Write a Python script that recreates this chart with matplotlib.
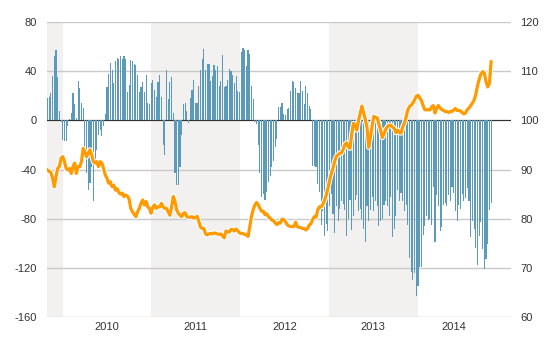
#############################################
# Weekly flows (bars) against an index (line) #
#############################################

import numpy as np
import pandas as pd
import matplotlib
matplotlib.use('Agg')
import matplotlib.pyplot as plt
import matplotlib.dates as mdates
import matplotlib.patheffects as pe

plt.rcParams['font.family'] = ['Liberation Sans', 'DejaVu Sans']

# -------------
# Data (weekly)
# -------------
start_date = '2009-10-30'

flows = [18, 19, 22, 36, 52, 57, 35, 8, -1, -16, -17, -17, -5, 1, 6, 22, 13, 2, 32, 26,
         14, 10, -22, -43, -57, -51, -38, -66, -34, -24, -12, -8, -13, -5, 5, 27, 38, 47, 41, 30,
         48, 51, 50,
         52, 50, 52, 50, 23, 29, 49, 48, 46, 45, 37, 23, 27, 31, 23, 37, 14, 13, 30, 33,
         25, 19, 31, 37, 19, -20, -28, 41, 17, 31, 35, 6, -43, -53, -53, -38, -12, 13, 14, 8,
         -2, 18, 25, 33, 14,
         14, 28, 41, 50, 58, 41, 46, 46, 32, 36, 45, 41, 44, 28, 32, 53, 27, 28, 33, 42,
         40, 37, 30, 36, 24, 23, 56, 59, 57, 44, 57, 54, 28, 17, -1, -3, -20, -43, -62, -60,
         -65, -58, -50, -45, -38,
         -33, -22, -15, 11, 11, 14, 5, 4, 9, 10, 24, 32, 31, 26, 22, 22, 32, 24, 13, 28,
         22, 12, 9, -37, -37, -38, -52, -58, -85, -74, -94, -84, -90, -70, -60, -76, -92, -70, -82, -72,
         -66, -68, -73, -94, -80,
         -65, -89, -78, -65, -61, -74, -72, -80, -88, -99, -70, -82, -73, -62, -74, -66, -70, -86, -82, -80,
         -69, -66, -70, -78, -62, -95, -88, -78, -57, -66, -59, -66, -74, -69, -85, -112, -123, -130, -124, -143,
         -135, -119, -119, -93, -86,
         -78, -81, -80, -85, -54, -99, -61, -70, -90, -87, -69, -67, -70, -61, -66, -54, -59, -74, -82, -69,
         -72, -60, -66, -63, -55, -66, -95, -82, -88, -104, -118, -94, -83, -105, -121, -113, -101, -73, -67]

index = [89.9, 89.6, 89.4, 88.2, 86.5, 88.5, 90.2, 90.6, 92.3, 92.6, 91.6, 90.2, 89.9, 90.2, 89.2, 90.6,
         91.3, 89.2, 90.6, 90.6, 91.6, 94.3, 93.6, 92.6, 93.3, 94.0, 93.0, 91.6, 91.3, 91.6, 90.6, 91.6,
         91.3, 90.2, 88.9, 88.2, 87.2, 87.5, 86.5, 86.8, 85.8, 86.1, 85.3,
         85.0, 85.2, 84.5, 84.8, 84.6, 84.0, 82.1, 81.4, 80.9, 80.4, 81.4, 82.1, 83.1, 83.8, 82.8, 83.5,
         82.4, 82.1, 81.1, 82.4, 82.8, 82.1, 82.4, 82.4, 83.1, 82.4, 82.1, 82.1, 81.4, 80.7, 82.4, 84.5,
         83.5, 81.8, 81.1, 80.7, 80.4, 81.1, 81.2, 80.4, 80.3, 80.3, 80.4, 80.1, 80.2,
         80.5, 79.5, 78.3, 78.0, 78.0, 76.9, 76.7, 76.9, 77.0, 76.9, 77.1, 77.0, 76.9, 76.8, 76.9, 76.5,
         76.1, 77.5, 77.3, 77.3, 77.8, 77.8, 77.5, 77.9, 77.5, 77.1, 77.0, 77.0, 76.8, 76.7, 76.4, 78.3,
         80.4, 81.8, 82.8, 83.3, 82.8, 82.1, 81.5, 81.5, 80.8, 81.0, 80.4, 80.1, 79.7,
         79.6, 79.1, 78.8, 79.2, 79.1, 79.9, 79.8, 79.4, 78.8, 78.5, 78.4, 78.4, 78.4, 79.3, 78.4, 78.2,
         78.2, 78.0, 78.0, 77.7, 78.0, 78.7, 79.0, 79.8, 80.4, 80.3, 81.8, 82.4, 82.4, 82.9, 83.7, 84.8,
         86.2, 87.8, 89.2, 90.3, 91.7, 92.7, 93.0, 93.3, 93.4, 94.1, 95.1, 95.4, 94.6,
         94.3, 97.2, 99.4, 99.0, 98.0, 100.0, 101.4, 102.9, 101.5, 100.2, 98.5, 94.5, 96.5, 98.8, 100.8, 100.6,
         100.5, 99.2, 98.0, 96.5, 97.2, 98.2, 98.7, 99.0, 99.0, 98.6, 98.4, 97.5, 98.0, 97.5, 97.4, 98.7,
         99.4, 100.7, 102.1, 102.8, 103.1, 103.5, 104.2, 104.9, 105.1, 104.6, 104.0, 103.0, 102.2,
         102.1, 102.2, 102.1, 102.7, 103.0, 101.5, 102.5, 103.0, 102.5, 102.2, 102.0, 101.8, 101.8, 101.6, 101.8, 101.8,
         102.1, 102.4, 102.0, 102.0, 101.9, 101.6, 101.3, 101.5, 102.2, 102.5, 103.0, 103.5, 104.1, 105.3, 107.0, 108.4,
         109.4, 109.9, 109.6, 107.9, 106.8, 107.5, 111.9]

years = [2010, 2011, 2012, 2013, 2014]
shaded_years = [2009, 2011, 2013]
left_ticks = [-160, -120, -80, -40, 0, 40, 80]
right_ticks = [60, 70, 80, 90, 100, 110, 120]

dates = pd.date_range(start_date, periods=len(flows), freq='7D')

# -----
# Style
# -----
col_bar = '#5b9ab8'
col_line = '#ff9a00'
col_band = '#f2f1f0'
col_grid = '#c9c9c9'
col_txt = '#333333'

x_min = pd.Timestamp('2009-10-28')
x_max = pd.Timestamp('2015-01-21')

fig = plt.figure(figsize=(5.58, 3.5), dpi=100)
ax = fig.add_axes([47/558, 1-317/350, 464/558, 295/350])

# alternate year shading
for y in shaded_years:
  a = max(pd.Timestamp(str(y)+'-01-01'), x_min)
  b = pd.Timestamp(str(y+1)+'-01-01')
  ax.axvspan(a, b, color=col_band, lw=0, zorder=0)

# grid and zero line
for t in left_ticks:
  ax.axhline(t, color=col_grid, lw=1.0, zorder=0.5)
ax.axhline(0, color='#333333', lw=0.8, zorder=1)

ax.bar(dates, flows, width=4.6, color=col_bar, linewidth=0, zorder=2)

ax.set_xlim(x_min, x_max)
ax.set_ylim(-160, 80)
ax.set_yticks(left_ticks)
ax.set_yticklabels([str(t) for t in left_ticks])

# year labels centred on the part of each year that has data
centres = []
for y in years:
  a = max(pd.Timestamp(str(y)+'-01-01'), dates[0])
  b = min(pd.Timestamp(str(y+1)+'-01-01'), dates[-1])
  centres.append(a + (b-a)/2)
ax.set_xticks(centres)
ax.set_xticklabels([str(y) for y in years])

ax.tick_params(axis='both', length=0, labelsize=8, colors=col_txt)
ax.tick_params(axis='y', pad=7.5)
ax.tick_params(axis='x', pad=3.5)
for s in ax.spines.values():
  s.set_visible(False)

# index on the right axis
ax2 = ax.twinx()
ax2.plot(dates, index, color=col_line, lw=2.3, solid_joinstyle='round', zorder=3,
         path_effects=[pe.Stroke(linewidth=3.8, foreground='white'), pe.Normal()])
ax2.set_ylim(60, 120)
ax2.set_yticks(right_ticks)
ax2.set_yticklabels([str(t) for t in right_ticks])
ax2.tick_params(axis='y', length=0, labelsize=8, colors=col_txt, pad=6.5)
for s in ax2.spines.values():
  s.set_visible(False)
ax2.set_xlim(x_min, x_max)

fig.savefig('out.png', dpi=100)
plt.close()
